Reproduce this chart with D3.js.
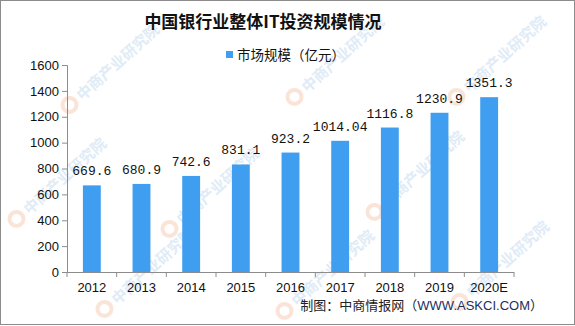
<!DOCTYPE html>
<html>
<head>
<meta charset="utf-8">
<script src="https://cdn.jsdelivr.net/npm/d3@7"></script>
<style>
  html, body { margin: 0; padding: 0; background: #fff; }
  svg { display: block; }
</style>
</head>
<body>
<svg id="chart" width="575" height="326"></svg>
<script>
// Bank-sector IT investment, 100M yuan
const years = ["2012", "2013", "2014", "2015", "2016", "2017", "2018", "2019", "2020E"];
const values = [669.6, 680.9, 742.6, 831.1, 923.2, 1014.04, 1116.8, 1230.9, 1351.3];
const valueLabels = ["669.6", "680.9", "742.6", "831.1", "923.2", "1014.04", "1116.8", "1230.9", "1351.3"];
const yTicks = [0, 200, 400, 600, 800, 1000, 1200, 1400, 1600];

const W = 575, H = 326;
const margin = { left: 67, right: 61, top: 65, bottom: 54 };
const svg = d3.select("#chart");

// background and frame
svg.append("rect").attr("x", 0.5).attr("y", 0.5).attr("width", W - 1).attr("height", H - 2)
  .attr("fill", "#fff").attr("stroke", "#8c8c8c").attr("stroke-width", 1);

// watermark layer
const wm = svg.append("g").attr("class", "watermark");
const wmSpots = [[75, 108], [300, 100], [462, 100], [22, 222], [175, 232], [380, 215], [465, 305], [110, 312], [290, 314]];
wmSpots.forEach(([x, y]) => {
  const g = wm.append("g").attr("transform", `translate(${x},${y}) rotate(-42)`);
  g.append("circle").attr("cx", -2).attr("cy", -6).attr("r", 7)
    .attr("fill", "none").attr("stroke", "#f6cdb8").attr("stroke-width", 4).attr("opacity", 0.55);
  g.append("text").attr("x", 10).attr("y", 0)
    .attr("font-family", "Noto Sans CJK SC").attr("font-weight", "bold").attr("font-size", 15)
    .attr("fill", "#cfe2f3").attr("opacity", 0.65).text("中商产业研究院");
});

const x = d3.scaleBand().domain(years).range([margin.left, W - margin.right]).paddingInner(0.64).paddingOuter(0.32);
const y = d3.scaleLinear().domain([0, 1600]).range([H - margin.bottom, margin.top]);

// title
svg.append("text").attr("x", 263).attr("y", 28).attr("text-anchor", "middle")
  .attr("font-family", "Noto Sans CJK SC").attr("font-weight", "bold").attr("font-size", 17)
  .attr("fill", "#111").text("中国银行业整体IT投资规模情况");

// legend
svg.append("rect").attr("x", 226).attr("y", 51).attr("width", 7).attr("height", 7).attr("fill", "#409ef0");
svg.append("text").attr("x", 237).attr("y", 59.5)
  .attr("font-family", "Noto Sans CJK SC").attr("font-size", 13.5).attr("fill", "#111")
  .text("市场规模（亿元）");

// axes
const yAxis = d3.axisLeft(y).tickValues(yTicks).tickSize(5).tickPadding(3).tickFormat(d3.format("d"));
const gy = svg.append("g").attr("transform", `translate(${margin.left},0)`).call(yAxis);
gy.selectAll("path, line").attr("stroke", "#8c8c8c");
gy.selectAll("text").attr("font-family", "Liberation Sans").attr("font-size", 13).attr("fill", "#111");

const xAxis = d3.axisBottom(x).tickSize(0).tickPadding(11);
const gx = svg.append("g").attr("transform", `translate(0,${H - margin.bottom})`).call(xAxis);
gx.select("path").attr("stroke", "#8c8c8c").attr("d", `M${margin.left},0.5H${W - margin.right}`);
gx.selectAll("text").attr("font-family", "Liberation Sans").attr("font-size", 13).attr("fill", "#111");
// category boundary ticks
const bounds = d3.range(years.length + 1).map(i => margin.left + i * (W - margin.left - margin.right) / years.length);
gx.selectAll("line.bound").data(bounds).join("line").attr("class", "bound")
  .attr("x1", d => d).attr("x2", d => d).attr("y1", 0).attr("y2", 5).attr("stroke", "#8c8c8c");

// bars
svg.append("g").selectAll("rect").data(values).join("rect")
  .attr("x", (d, i) => x(years[i])).attr("width", x.bandwidth())
  .attr("y", d => y(d)).attr("height", d => y(0) - y(d))
  .attr("fill", "#409ef0");

// value labels
svg.append("g").selectAll("text").data(values).join("text")
  .attr("x", (d, i) => x(years[i]) + x.bandwidth() / 2)
  .attr("y", d => y(d) - 10)
  .attr("text-anchor", "middle")
  .attr("font-family", "Liberation Mono").attr("font-size", 13).attr("fill", "#111")
  .text((d, i) => valueLabels[i]);

// source note
const src = svg.append("text").attr("x", 543).attr("y", 310).attr("text-anchor", "end")
  .attr("font-family", "Noto Sans CJK SC").attr("font-size", 13).attr("fill", "#222");
src.append("tspan").text("制图：中商情报网（");
src.append("tspan").attr("fill", "#1c2f5e").attr("font-family", "Liberation Sans").text("WWW.ASKCI.COM");
src.append("tspan").text("）");
</script>
</body>
</html>
